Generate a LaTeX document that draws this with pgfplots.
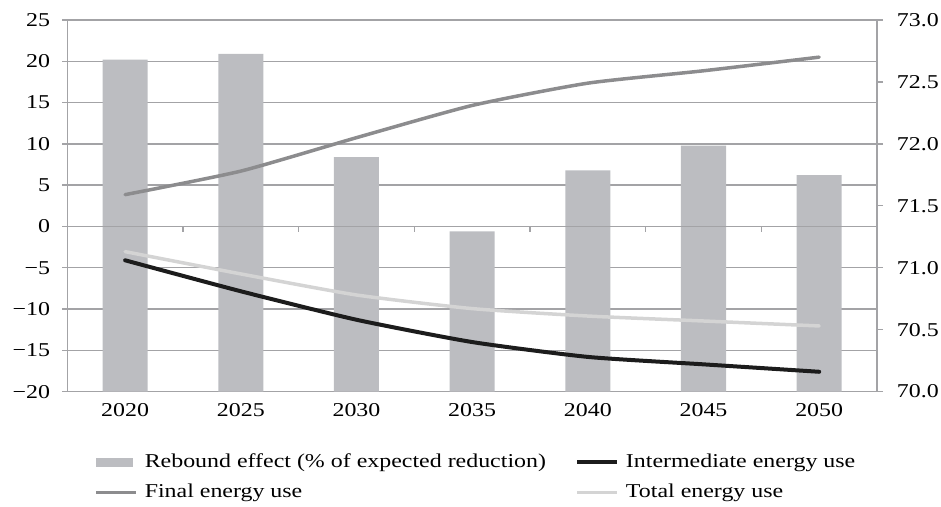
\documentclass[border=0pt]{standalone}
\usepackage{fontspec}
\setmainfont{Liberation Serif}[FakeStretch=1.22]
\usepackage{pgfplots}
\pgfplotsset{compat=1.18}
\definecolor{gridc}{RGB}{163,163,166}
\definecolor{barc}{RGB}{188,189,193}
\definecolor{finalc}{RGB}{140,140,142}
\definecolor{interc}{RGB}{28,28,28}
\definecolor{totalc}{RGB}{212,212,212}
\pgfplotsset{
  mylinelegend/.style={legend image code/.code={\draw[##1, line cap=butt] (0pt,0pt) -- (20pt,0pt);}},
}
\begin{document}
\begin{tikzpicture}
\fontsize{9.8}{11}\selectfont
\begin{axis}[name=A,
  scale only axis, width=404.85pt, height=185.8pt,
  xmin=-0.5, xmax=6.5, ymin=-20, ymax=25,
  y coord trafo/.code={\pgfmathparse{#1+20}},
  y coord inv trafo/.code={\pgfmathparse{#1-20}},
  ytick={-20,-15,-10,-5,0,5,10,15,20,25},
  yticklabels={−20,−15,−10,−5,0,5,10,15,20,25},
  xtick={0,1,2,3,4,5,6},
  xticklabels={2020,2025,2030,2035,2040,2045,2050},
  ymajorgrids, grid style={gridc, line width=0.65pt},
  axis line style={gridc, line width=0.65pt},
  tick style={gridc, line width=0.65pt},
  tick align=outside, major tick length=2.5pt,
  x tick style={draw=none},
  ytick pos=left, xtick pos=bottom,
  yticklabel style={xshift=-2.7pt},
  ybar, bar width=22.5pt,
]
\addplot[fill=barc, draw=none] coordinates {(0,20.2) (1,20.9) (2,8.4) (3,-0.6) (4,6.8) (5,9.8) (6,6.2)};
\draw[gridc, line width=0.65pt] (axis cs:-0.5,0) -- (axis cs:6.5,0);
\pgfplotsinvokeforeach{0.5,1.5,2.5,3.5,4.5,5.5}{\draw[gridc, line width=0.65pt] (axis cs:#1,0) -- ++(0pt,-3pt);}
\end{axis}
\begin{axis}[
  scale only axis, width=404.85pt, height=185.8pt,
  xmin=-0.5, xmax=6.5, ymin=70, ymax=73,
  axis y line*=right, axis x line=none,
  ytick={70,70.5,71,71.5,72,72.5,73},
  yticklabels={70.0,70.5,71.0,71.5,72.0,72.5,73.0},
  axis line style={gridc, line width=0.65pt},
  tick style={gridc, line width=0.65pt},
  tick align=outside, major tick length=3pt,
  yticklabel style={xshift=3.5pt},
  legend columns=2,
  legend cell align=left,
  legend style={at={(0.0333,-0.167)}, anchor=north west, draw=none, fill=none,
    inner sep=0pt, outer sep=0pt, row sep=7pt,
    nodes={inner sep=0pt},
    /tikz/every odd column/.style={column sep=3.5pt},
    /tikz/every even column/.style={column sep=14.5pt}},
]
\addlegendimage{legend image code/.code={\fill[barc] (0pt,-2pt) rectangle (18pt,2pt);}}
\addlegendentry{Rebound effect (\% of expected reduction)}
\addplot[mylinelegend, interc, line width=2pt, smooth, tension=0.35, line cap=round] coordinates {(0,71.06) (1,70.81) (2,70.58) (3,70.40) (4,70.28) (5,70.22) (6,70.16)};
\addlegendentry{Intermediate energy use}
\addplot[mylinelegend, finalc, line width=1.75pt, smooth, tension=0.35, line cap=round] coordinates {(0,71.59) (1,71.78) (2,72.05) (3,72.31) (4,72.49) (5,72.59) (6,72.70)};
\addlegendentry{Final energy use}
\addplot[mylinelegend, totalc, line width=1.75pt, smooth, tension=0.35, line cap=round] coordinates {(0,71.13) (1,70.95) (2,70.78) (3,70.67) (4,70.61) (5,70.57) (6,70.53)};
\addlegendentry{Total energy use}
\end{axis}
\pgfresetboundingbox
\path ([xshift=-33.65pt,yshift=-57.5pt]A.south west) rectangle ([xshift=32pt,yshift=10pt]A.north east);
\end{tikzpicture}
\end{document}
